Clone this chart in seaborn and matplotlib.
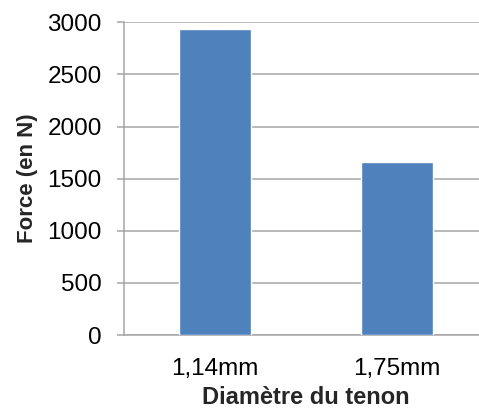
import matplotlib
matplotlib.use("Agg")
import matplotlib.pyplot as plt
import seaborn as sns
import pandas as pd

categories = ["1,14mm", "1,75mm"]
forces = [2935, 1663]
y_ticks = [0, 500, 1000, 1500, 2000, 2500, 3000]

sns.set_style("white")
plt.rcParams["font.family"] = ["Liberation Sans", "DejaVu Sans"]

df = pd.DataFrame({"Diamètre": categories, "Force": forces})

fig = plt.figure(figsize=(4.79, 4.12), dpi=100)
ax = fig.add_axes([124 / 479, 77 / 412, 364 / 479, 312.7 / 412])

sns.barplot(data=df, x="Diamètre", y="Force", color="#4F81BD", width=0.4,
            saturation=1, ax=ax, zorder=3)

ax.set_ylim(0, 3000)
ax.set_xlim(-0.5, 1.5)
ax.set_yticks(y_ticks)
ax.yaxis.grid(True, color="#A6A6A6", linewidth=1.1, zorder=0)
ax.set_axisbelow(True)

for side in ["top", "right"]:
    ax.spines[side].set_visible(False)
for side in ["left", "bottom"]:
    ax.spines[side].set_color("#A6A6A6")
    ax.spines[side].set_linewidth(1.1)

ax.tick_params(axis="y", which="major", left=True, length=5, width=1.1,
               color="#A6A6A6", pad=11, labelsize=17.5, labelcolor="black")
ax.tick_params(axis="x", which="major", bottom=False, pad=13, labelsize=17.5,
               labelcolor="black")

ax.set_ylabel("Force (en N)", fontsize=16, fontweight="bold", labelpad=7)
ax.set_xlabel("Diamètre du tenon", fontsize=17, fontweight="bold", labelpad=4.5)

fig.savefig("out.png", dpi=100)
